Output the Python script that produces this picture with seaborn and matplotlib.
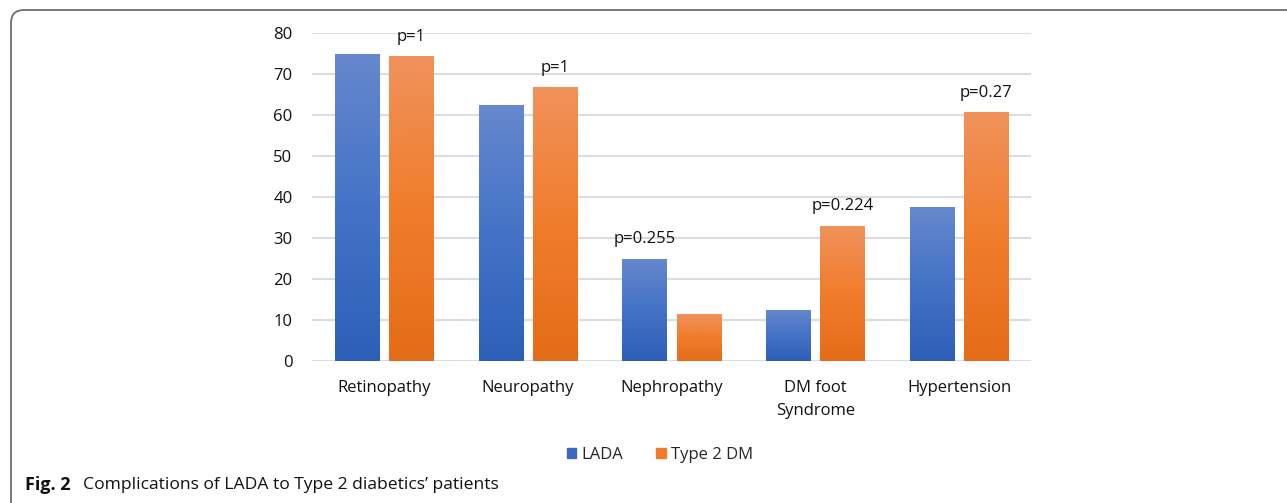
import numpy as np
import pandas as pd
import seaborn as sns
import matplotlib.pyplot as plt
import matplotlib.patches as mpatches
from matplotlib.colors import LinearSegmentedColormap

categories = ['Retinopathy', 'Neuropathy', 'Nephropathy', 'DM foot\nSyndrome', 'Hypertension']
lada = [75.0, 62.5, 25.0, 12.5, 37.5]
type2 = [74.4, 66.8, 11.5, 33.0, 60.7]
groups = ['LADA', 'Type 2 DM']
# p-value label, which bar it sits on (0 = LADA, 1 = Type 2 DM)
p_labels = ['p=1', 'p=1', 'p=0.255', 'p=0.224', 'p=0.27']
p_on = [1, 1, 0, 1, 1]

grad_colors = {
    'LADA': ('#2E5FB8', '#4473C6', '#6688CE'),
    'Type 2 DM': ('#E56C18', '#F07D2C', '#F0925C'),
}
legend_colors = {'LADA': '#3C68C0', 'Type 2 DM': '#EE7A2C'}

df = pd.DataFrame({
    'Complication': categories * 2,
    'Group': [groups[0]] * len(categories) + [groups[1]] * len(categories),
    'Percent': lada + type2,
})

sns.set_style('white')
plt.rcParams['font.family'] = ['Open Sans', 'DejaVu Sans']

fig = plt.figure(figsize=(12.87, 5.03), dpi=100)
ax = fig.add_axes([0.2424, 0.2823, 0.5587, 0.652])

sns.barplot(data=df, x='Complication', y='Percent', hue='Group', order=categories,
            hue_order=groups, palette=legend_colors, width=0.752, gap=0.186,
            ax=ax, legend=False, saturation=1)

ax.set_ylim(0, 80)
ax.set_yticks(range(0, 81, 10))
xlim = ax.get_xlim()

# vertical gradient fill clipped to each bar
grad = np.linspace(0, 1, 256).reshape(-1, 1)
bars = ax.patches
n = len(categories)
for i, patch in enumerate(bars[:2 * n]):
    grp = groups[i // n]
    cmap = LinearSegmentedColormap.from_list(grp, grad_colors[grp])
    x0, y0 = patch.get_x(), patch.get_y()
    w, h = patch.get_width(), patch.get_height()
    im = ax.imshow(grad, extent=[x0, x0 + w, y0, y0 + h], origin='lower',
                   cmap=cmap, aspect='auto', zorder=2)
    im.set_clip_path(patch)
    patch.set_facecolor('none')
    patch.set_edgecolor('none')

ax.set_xlim(xlim)
ax.set_ylim(0, 80)

# p-value annotations
for i, (lab, which) in enumerate(zip(p_labels, p_on)):
    patch = bars[which * n + i]
    ax.annotate(lab, (patch.get_x() + patch.get_width() / 2, patch.get_height()),
                xytext=(0, 14), textcoords='offset points', ha='center', va='center',
                fontsize=12, color='#111111')

ax.grid(axis='y', color='#D9DDE3', linewidth=1.5, zorder=0)
ax.set_axisbelow(True)
sns.despine(ax=ax, left=True, bottom=True, top=True, right=True)
ax.tick_params(axis='both', length=0, labelsize=12, colors='#111111')
ax.tick_params(axis='y', pad=14)
ax.tick_params(axis='x', pad=14)
for t in ax.get_xticklabels():
    t.set_linespacing(1.55)
ax.set_xlabel('')
ax.set_ylabel('')

handles = [mpatches.Patch(color=legend_colors[g], label=g) for g in groups]
fig.legend(handles=handles, loc='center', bbox_to_anchor=(660 / 1287, 1 - 455 / 503),
           ncol=2, frameon=False, fontsize=12, handlelength=0.55, handleheight=0.55,
           handletextpad=0.3, columnspacing=2.0)

# caption
fig.text(25 / 1287, 1 - 485 / 503, 'Fig. 2', fontsize=13, fontweight='bold',
         va='center', ha='left', color='#111111')
fig.text(83 / 1287, 1 - 485 / 503, 'Complications of LADA to Type 2 diabetics\u2019 patients',
         fontsize=12.6, va='center', ha='left', color='#111111')

# rounded frame around the figure
frame = mpatches.FancyBboxPatch((0.11, -0.5), 14.0, 5.43,
                                boxstyle='round,pad=0,rounding_size=0.13',
                                transform=fig.dpi_scale_trans, fill=False,
                                edgecolor='#6E6E6E', linewidth=1.3)
fig.patches.append(frame)

fig.savefig('out.png', dpi=100)
